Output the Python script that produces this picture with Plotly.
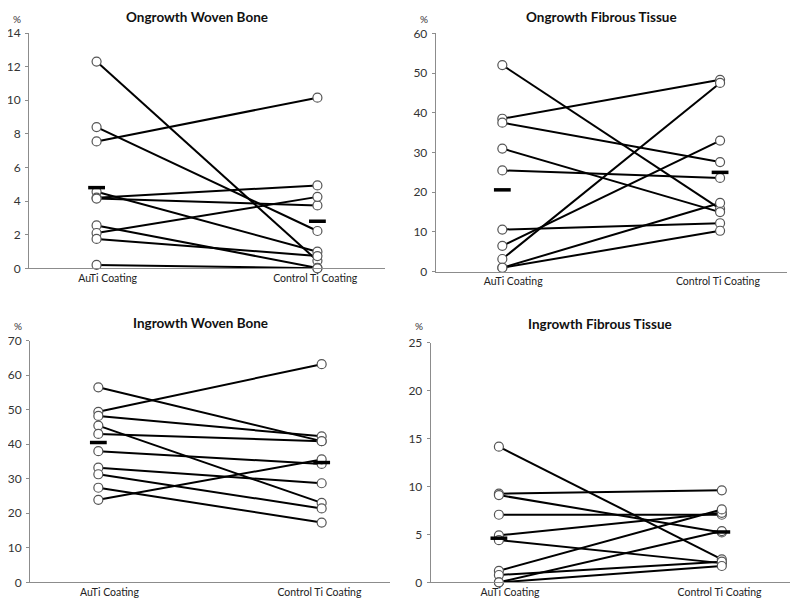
import plotly.graph_objects as go

categories = ["AuTi Coating", "Control Ti Coating"]
titles = ["Ongrowth Woven Bone", "Ongrowth Fibrous Tissue",
          "Ingrowth Woven Bone", "Ingrowth Fibrous Tissue"]

# Ongrowth woven bone (%)
onwb_auti = [12.3, 8.4, 7.55, 4.55, 4.2, 4.15, 2.55, 2.1, 1.75, 0.2]
onwb_ctrl = [0.45, 2.22, 10.15, 0.99, 4.93, 3.74, 0.02, 4.25, 0.73, 0.0]
onwb_mean = [4.8, 2.8]

# Ongrowth fibrous tissue (%)
onft_auti = [52.0, 38.5, 37.5, 31.0, 25.5, 10.6, 6.5, 3.2, 1.0, 1.0]
onft_ctrl = [15.8, 48.3, 27.6, 15.0, 23.6, 12.2, 33.0, 47.5, 17.3, 10.3]
onft_mean = [20.6, 25.0]

# Ingrowth woven bone (%)
inwb_auti = [56.5, 49.4, 48.2, 45.4, 43.0, 38.0, 33.2, 31.3, 27.4, 23.9]
inwb_ctrl = [40.9, 63.2, 42.3, 23.0, 40.9, 34.3, 28.7, 21.4, 17.3, 35.6]
inwb_mean = [40.5, 34.7]

# Ingrowth fibrous tissue (%)
inft_auti = [14.15, 9.25, 9.1, 7.05, 4.9, 4.4, 1.2, 0.76, 0.0, 0.0]
inft_ctrl = [2.4, 9.6, 5.2, 7.05, 7.25, 2.0, 7.6, 2.15, 5.35, 1.7]
inft_mean = [4.6, 5.25]

y_max = [14, 60, 70, 25]
y_step = [2, 10, 10, 5]

panels = [
    (onwb_auti, onwb_ctrl, onwb_mean),
    (onft_auti, onft_ctrl, onft_mean),
    (inwb_auti, inwb_ctrl, inwb_mean),
    (inft_auti, inft_ctrl, inft_mean),
]

OFF = 8  # page body margin offset
W, H = 800 - OFF, 609 - OFF
# pixel boxes on screen: (left, right, top, bottom)
boxes = [(29, 385, 33, 268.3), (435.7, 786.7, 33.3, 271.7),
         (30, 390, 340.7, 582.3), (430.7, 790, 342.7, 582.3)]
title_y = [17, 17, 323, 324]
pct_y = [19, 19, 326, 326]


def px(xp):
    return (xp - OFF) / W


def py(yp):
    return 1 - (yp - OFF) / H


FONT = "Lato"
fig = go.Figure()
layout = dict(width=W, height=H, margin=dict(l=0, r=0, t=0, b=0, autoexpand=False),
              paper_bgcolor="white", plot_bgcolor="white", showlegend=False,
              annotations=[])

r = 0.306
for i, (auti, ctrl, mean) in enumerate(panels):
    n = i + 1
    xa = "x" if n == 1 else f"x{n}"
    ya = "y" if n == 1 else f"y{n}"
    for a, c in zip(auti, ctrl):
        fig.add_trace(go.Scatter(x=[0, 1], y=[a, c], mode="lines",
                                 line=dict(color="black", width=2),
                                 xaxis=xa, yaxis=ya, hoverinfo="skip",
                                 cliponaxis=False))
    fig.add_trace(go.Scatter(x=[0] * len(auti) + [1] * len(ctrl), y=auti + ctrl,
                             mode="markers",
                             marker=dict(symbol="circle", size=9, color="white",
                                         line=dict(color="#555555", width=1.2)),
                             xaxis=xa, yaxis=ya, cliponaxis=False))
    fig.add_trace(go.Scatter(x=[0, 1], y=mean, mode="markers",
                             marker=dict(symbol="line-ew", size=12,
                                         line=dict(color="black", width=3.5)),
                             xaxis=xa, yaxis=ya, cliponaxis=False))
    L, R, T, B = boxes[i]
    xk = "xaxis" if n == 1 else f"xaxis{n}"
    yk = "yaxis" if n == 1 else f"yaxis{n}"
    layout[xk] = dict(domain=[px(L), px(R)], range=[-r, 1 + r],
                      tickvals=[0.05, 0.99], ticktext=categories,
                      showgrid=False, zeroline=False, showline=True,
                      linecolor="#8c8c8c", linewidth=1, ticks="",
                      tickfont=dict(family=FONT, size=10.5, color="#222222"),
                      anchor=ya, fixedrange=True, automargin=False)
    layout[yk] = dict(domain=[py(B), py(T)], range=[0, y_max[i]],
                      dtick=y_step[i], tick0=0, showgrid=False, zeroline=False,
                      showline=True, linecolor="#8c8c8c", linewidth=1,
                      ticks="outside", ticklen=3, tickcolor="#8c8c8c",
                      ticklabelstandoff=2,
                      tickfont=dict(family=FONT, size=12, color="#333333"),
                      anchor=xa, fixedrange=True, automargin=False)
    layout["annotations"].append(dict(
        text=f"<b>{titles[i]}</b>", x=px((L + R) / 2 - 10), y=py(title_y[i]),
        xref="paper", yref="paper", showarrow=False, xanchor="center",
        yanchor="middle", font=dict(family=FONT, size=13.5, color="#111111")))
    layout["annotations"].append(dict(
        text="%", x=px(L - 12), y=py(pct_y[i]), xref="paper", yref="paper",
        showarrow=False, xanchor="center", yanchor="middle",
        font=dict(family=FONT, size=10, color="#333333")))

fig.update_layout(**layout)
fig.write_html("out.html")
